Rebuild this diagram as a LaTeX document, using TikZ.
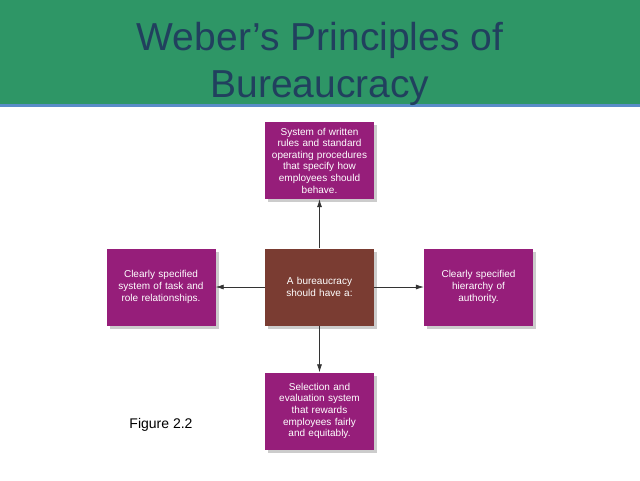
\documentclass[tikz,border=0pt]{standalone}
\usepackage{fontspec}
\setmainfont{Liberation Sans}
\usetikzlibrary{shadows,arrows.meta}
\definecolor{hdr}{RGB}{46,150,102}
\definecolor{ttl}{RGB}{33,64,94}
\definecolor{hline}{RGB}{90,140,200}
\definecolor{purp}{RGB}{150,30,122}
\definecolor{brn}{RGB}{122,60,50}
\begin{document}
\begin{tikzpicture}[x=1pt,y=-1pt,
  box/.style={minimum width=109pt,minimum height=77pt,text width=105pt,align=center,text=white,font=\fontsize{10}{11.6}\selectfont,inner sep=1pt,drop shadow={shadow xshift=3pt,shadow yshift=-3pt,opacity=0.4}},
  pbox/.style={box,fill=purp},
  arr/.style={-{Latex[length=8pt,width=5pt]},draw=black!80,line width=0.7pt}]
\useasboundingbox (0,0) rectangle (640,480);
\fill[white] (0,0) rectangle (640,480);
\fill[hdr] (0,0) rectangle (640,104);
\fill[hline] (0,104) rectangle (640,107);
\node[text=ttl,font=\fontsize{39}{47}\selectfont,align=center] (title) at (320,64) {Weber’s Principles of\\Bureaucracy};
\node[box,fill=brn] (c) at (319.5,287) {A bureaucracy\\should have a:};
\node[pbox] (t) at (319.5,160.5) {System of written\\rules and standard\\operating procedures\\that specify how\\employees should\\behave.};
\node[pbox] (l) at (161,287) {Clearly specified\\system of task and\\role relationships.};
\node[pbox] (r) at (478.5,287) {Clearly specified\\hierarchy of\\authority.};
\node[pbox] (b) at (319.5,411) {Selection and\\evaluation system\\that rewards\\employees fairly\\and equitably.};
\draw[arr] (c) -- (t);
\draw[arr] (c) -- (l);
\draw[arr] (c) -- (r);
\draw[arr] (c) -- (b);
\node[font=\fontsize{14}{16}\selectfont] (fig) at (161,425) {Figure 2.2};
\end{tikzpicture}
\end{document}
